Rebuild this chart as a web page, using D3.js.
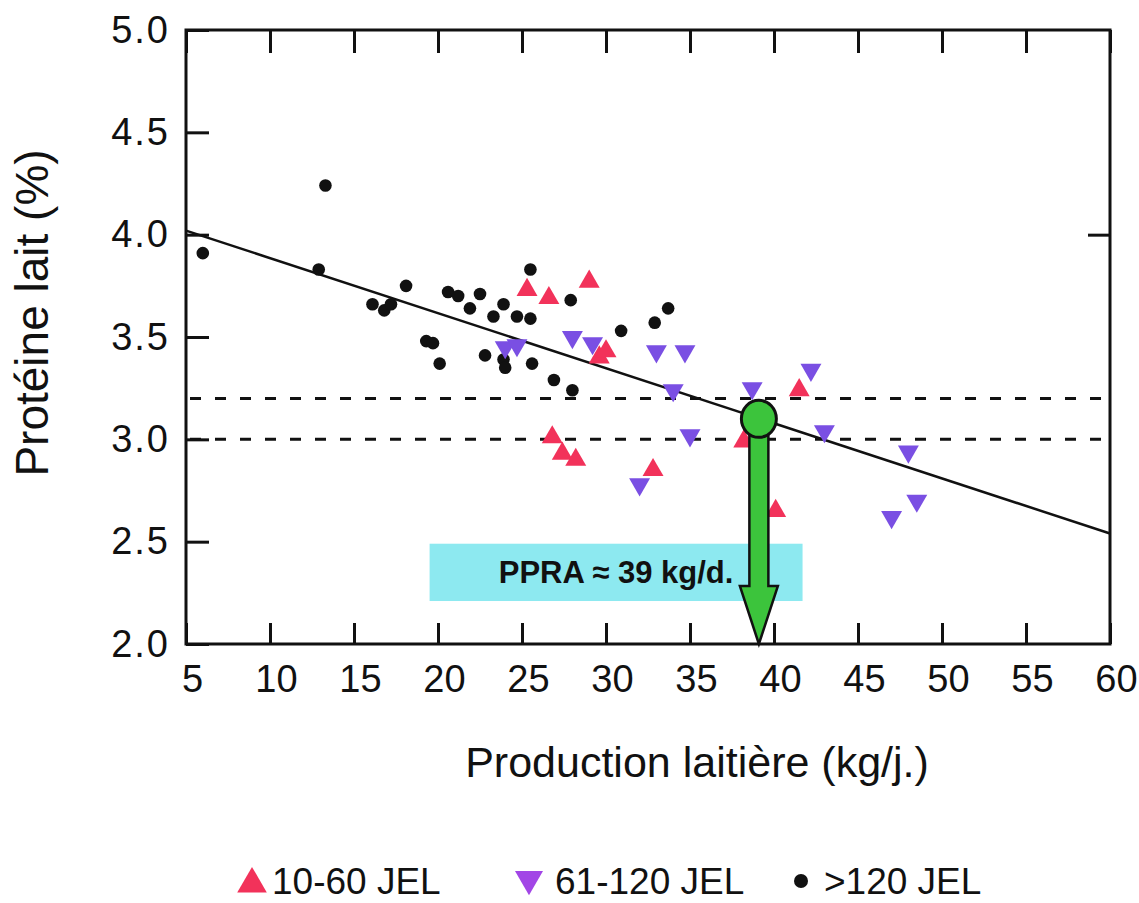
<!DOCTYPE html>
<html>
<head>
<meta charset="utf-8">
<script src="https://cdn.jsdelivr.net/npm/d3@7"></script>
<style>
  html, body { margin: 0; padding: 0; background: #fff; }
  svg { display: block; font-family: "Liberation Sans", Arial, Helvetica, sans-serif; }
</style>
</head>
<body>
<svg id="chart" width="1139" height="903"></svg>
<script>
// ---------- data ----------
const xTicks = [5, 10, 15, 20, 25, 30, 35, 40, 45, 50, 55, 60];
const yTicks = [2.0, 2.5, 3.0, 3.5, 4.0, 4.5, 5.0];

const seriesNames = ["10-60 JEL", "61-120 JEL", ">120 JEL"];

// 10-60 JEL (red up-triangles)
const redX = [25.3, 26.6, 29.0, 29.6, 30.0, 26.8, 27.4, 28.2, 32.8, 38.2, 40.1, 41.5];
const redY = [3.74, 3.70, 3.78, 3.41, 3.44, 3.02, 2.94, 2.91, 2.86, 3.00, 2.66, 3.25];

// 61-120 JEL (purple down-triangles)
const purpleX = [24.0, 24.7, 28.0, 29.2, 33.0, 34.7, 34.0, 35.0, 32.0, 38.7, 42.2, 43.0, 48.0, 48.5, 47.0];
const purpleY = [3.44, 3.45, 3.49, 3.46, 3.42, 3.42, 3.23, 3.01, 2.77, 3.24, 3.33, 3.03, 2.93, 2.69, 2.61];

// >120 JEL (black dots)
const blackX = [6.0, 13.3, 12.9, 16.1, 16.8, 17.2, 18.1, 19.3, 19.7, 20.1, 20.6, 21.2, 21.9, 22.5, 22.8,
                23.3, 23.9, 23.9, 24.0, 24.7, 25.5, 25.5, 25.6, 26.9, 27.9, 28.0, 30.9, 32.9, 33.7];
const blackY = [3.91, 4.24, 3.83, 3.66, 3.63, 3.66, 3.75, 3.48, 3.47, 3.37, 3.72, 3.70, 3.64, 3.71, 3.41,
                3.60, 3.66, 3.39, 3.35, 3.60, 3.59, 3.83, 3.37, 3.29, 3.68, 3.24, 3.53, 3.57, 3.64];

// regression line endpoints
const regX = [5, 60];
const regY = [4.02, 2.54];

// threshold (dashed) lines
const thresholds = [3.2, 3.0];

// PPRA annotation
const ppraX = 39.1;
const ppraY = 3.10;
const ppraLabel = "PPRA \u2248 39 kg/d.";
const boxX = [19.5, 41.7];
const boxY = [2.21, 2.49];

const xTitle = "Production laitière (kg/j.)";
const yTitle = "Protéine lait (%)";

// ---------- drawing ----------
const colors = { red: "#f2325a", purple: "#7a4fe3", black: "#111111" };
const legendColors = ["#f2325a", "#a246e6", "#111111"];

const svg = d3.select("#chart");

const x = d3.scaleLinear().domain([5, 60]).range([186, 1110]);
const y = d3.scaleLinear().domain([2, 5]).range([644, 30]);

// cyan box
svg.append("rect")
  .attr("x", x(boxX[0])).attr("y", y(boxY[1]))
  .attr("width", x(boxX[1]) - x(boxX[0]))
  .attr("height", y(boxY[0]) - y(boxY[1]))
  .attr("fill", "#8de9f0");

svg.append("text")
  .attr("x", x((boxX[0] + boxX[1]) / 2))
  .attr("y", y((boxY[0] + boxY[1]) / 2) + 11)
  .attr("text-anchor", "middle")
  .attr("font-weight", "bold")
  .attr("font-size", 31)
  .attr("fill", "#111")
  .text(ppraLabel);

// dashed thresholds
svg.selectAll("line.thr").data(thresholds).join("line")
  .attr("class", "thr")
  .attr("x1", x(5) + 4).attr("x2", x(60))
  .attr("y1", d => y(d)).attr("y2", d => y(d))
  .attr("stroke", "#111").attr("stroke-width", 3)
  .attr("stroke-dasharray", "11,14");

// regression line
svg.append("line")
  .attr("x1", x(regX[0])).attr("y1", y(regY[0]))
  .attr("x2", x(regX[1])).attr("y2", y(regY[1]))
  .attr("stroke", "#111").attr("stroke-width", 2.5);

// axes
const axisStyle = g => {
  g.selectAll(".domain").remove();
  g.selectAll(".tick line").attr("stroke", "#111").attr("stroke-width", 3);
  g.selectAll(".tick text").attr("fill", "#111").attr("font-family", "'Liberation Sans', Arial, sans-serif");
};

svg.append("g").attr("transform", `translate(0,${y(2)})`)
  .call(d3.axisBottom(x).tickValues(xTicks).tickSize(-21).tickPadding(21).tickFormat(d3.format("d")))
  .call(axisStyle)
  .call(g => g.selectAll(".tick text").attr("font-size", 38).attr("dx", 6));

svg.append("g").attr("transform", `translate(0,${y(5)})`)
  .call(d3.axisTop(x).tickValues(xTicks).tickSize(-23).tickFormat(""))
  .call(axisStyle);

svg.append("g").attr("transform", `translate(${x(5)},0)`)
  .call(d3.axisLeft(y).tickValues(yTicks).tickSize(-23).tickPadding(16).tickFormat(d3.format(".1f")))
  .call(axisStyle)
  .call(g => g.selectAll(".tick text").attr("font-size", 38).attr("letter-spacing", 2));

svg.append("g").attr("transform", `translate(${x(60)},0)`)
  .call(d3.axisRight(y).tickValues([4.0]).tickSize(-22).tickFormat(""))
  .call(axisStyle);

// frame
svg.append("rect")
  .attr("x", x(5)).attr("y", y(5))
  .attr("width", x(60) - x(5)).attr("height", y(2) - y(5))
  .attr("fill", "none").attr("stroke", "#111").attr("stroke-width", 3);

// points
const redData = redX.map((d, i) => ({ x: d, y: redY[i] }));
const purpleData = purpleX.map((d, i) => ({ x: d, y: purpleY[i] }));
const blackData = blackX.map((d, i) => ({ x: d, y: blackY[i] }));

svg.selectAll("circle.blk").data(blackData).join("circle")
  .attr("class", "blk")
  .attr("cx", d => x(d.x)).attr("cy", d => y(d.y)).attr("r", 6.3)
  .attr("fill", colors.black);

const triUp = d3.symbol(d3.symbolTriangle, 190);
svg.selectAll("path.red").data(redData).join("path")
  .attr("class", "red")
  .attr("d", triUp)
  .attr("transform", d => `translate(${x(d.x)},${y(d.y) + 2})`)
  .attr("fill", colors.red);

svg.selectAll("path.pur").data(purpleData).join("path")
  .attr("class", "pur")
  .attr("d", triUp)
  .attr("transform", d => `translate(${x(d.x)},${y(d.y) - 2}) rotate(180)`)
  .attr("fill", colors.purple);

// green arrow
const ax = x(ppraX), ay = y(ppraY), tipY = y(2);
const headTop = tipY - 58, shaftW = 19, headW = 38;
svg.append("path")
  .attr("d", `M${ax - shaftW / 2},${ay} L${ax + shaftW / 2},${ay} L${ax + shaftW / 2},${headTop}
              L${ax + headW / 2},${headTop} L${ax},${tipY} L${ax - headW / 2},${headTop}
              L${ax - shaftW / 2},${headTop} Z`)
  .attr("fill", "#3cc43c").attr("stroke", "#111").attr("stroke-width", 2.5)
  .attr("stroke-linejoin", "miter");
svg.append("ellipse")
  .attr("cx", ax).attr("cy", ay).attr("rx", 17.5).attr("ry", 18.5)
  .attr("fill", "#3cc43c").attr("stroke", "#111").attr("stroke-width", 3);

// axis titles
svg.append("text")
  .attr("x", 697).attr("y", 777)
  .attr("text-anchor", "middle").attr("font-size", 43).attr("fill", "#111")
  .text(xTitle);

svg.append("text")
  .attr("transform", `translate(48,313) rotate(-90)`)
  .attr("text-anchor", "middle").attr("font-size", 46).attr("fill", "#111")
  .text(yTitle);

// legend
const legendPos = [237, 514, 794];
const lg = svg.append("g");
seriesNames.forEach((name, i) => {
  const lx = legendPos[i];
  if (i === 0) {
    lg.append("path").attr("d", d3.symbol(d3.symbolTriangle, 380)())
      .attr("transform", `translate(${lx + 15},${884})`).attr("fill", legendColors[0]);
  } else if (i === 1) {
    lg.append("path").attr("d", d3.symbol(d3.symbolTriangle, 340)())
      .attr("transform", `translate(${lx + 15},${879}) rotate(180)`).attr("fill", legendColors[1]);
  } else {
    lg.append("circle").attr("cx", lx + 7).attr("cy", 881).attr("r", 7).attr("fill", legendColors[2]);
  }
  lg.append("text")
    .attr("x", lx + (i === 0 ? 35 : (i === 1 ? 41 : 30))).attr("y", 894)
    .attr("font-size", 37).attr("fill", "#111")
    .text(name);
});
</script>
</body>
</html>
